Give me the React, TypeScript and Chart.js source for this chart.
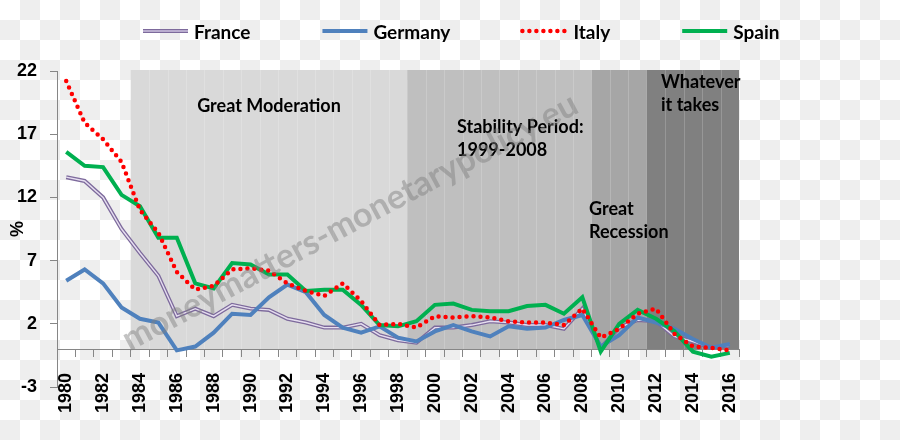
import { useEffect, useRef } from 'react';
import { Chart, registerables } from 'chart.js';

Chart.register(...registerables);

const years = [
  '1980', '1981', '1982', '1983', '1984', '1985', '1986', '1987', '1988', '1989',
  '1990', '1991', '1992', '1993', '1994', '1995', '1996', '1997', '1998', '1999',
  '2000', '2001', '2002', '2003', '2004', '2005', '2006', '2007', '2008', '2009',
  '2010', '2011', '2012', '2013', '2014', '2015', '2016',
];

const france = [
  13.6, 13.3, 12.0, 9.5, 7.6, 5.8, 2.6, 3.2, 2.6, 3.5,
  3.2, 3.1, 2.4, 2.1, 1.7, 1.7, 2.0, 1.1, 0.7, 0.5,
  1.7, 1.7, 1.9, 2.2, 2.1, 1.9, 1.9, 1.6, 3.2, 0.1,
  1.7, 2.3, 2.2, 1.0, 0.6, 0.1, 0.3,
];

const germany = [
  5.4, 6.3, 5.2, 3.3, 2.4, 2.1, -0.1, 0.2, 1.3, 2.8,
  2.7, 4.1, 5.1, 4.5, 2.7, 1.7, 1.3, 1.8, 0.9, 0.6,
  1.4, 1.9, 1.4, 1.0, 1.8, 1.6, 1.7, 2.3, 2.7, 0.2,
  1.1, 2.5, 2.1, 1.6, 0.8, 0.1, 0.4,
];

const italy = [
  21.2, 17.9, 16.6, 14.8, 11.0, 9.2, 6.1, 4.7, 5.0, 6.3,
  6.4, 6.2, 5.2, 4.6, 4.2, 5.2, 3.8, 1.9, 2.0, 1.7,
  2.6, 2.5, 2.6, 2.5, 2.2, 2.1, 2.1, 1.9, 3.2, 0.9,
  1.6, 2.8, 3.2, 1.2, 0.2, 0.1, -0.1,
];

const spain = [
  15.6, 14.5, 14.4, 12.2, 11.3, 8.8, 8.8, 5.2, 4.8, 6.8,
  6.7, 5.9, 5.9, 4.6, 4.7, 4.7, 3.5, 1.9, 1.8, 2.2,
  3.5, 3.6, 3.1, 3.0, 3.0, 3.4, 3.5, 2.8, 4.1, -0.2,
  2.0, 3.1, 2.4, 1.4, -0.2, -0.6, -0.3,
];

const yTicks = [-3, 2, 7, 12, 17, 22];

const periodStart = ['1984', '1999', '2009', '2012'];
const periodEnd = ['1998', '2008', '2011', '2016'];
const periodLabels = [
  ['Great Moderation'],
  ['Stability Period:', '1999-2008'],
  ['Great', 'Recession'],
  ['Whatever', 'it takes'],
];

const watermarkText = 'moneymatters-monetarypolicy.eu';

// styles / layout
const periodColors = ['#d9d9d9', '#bfbfbf', '#a6a6a6', '#808080'];
const periodLabelLayout = [
  { x: 269, y: 112, align: 'center' },
  { x: 457, y: 133, align: 'left' },
  { x: 589, y: 215, align: 'left' },
  { x: 661, y: 88, align: 'left' },
];
const annoFont = 'bold 18px Lato, "Open Sans", sans-serif';
const tickFont = { family: '"Liberation Sans", Arial, sans-serif', size: 18, weight: 'bold' as const };

const bandsPlugin = {
  id: 'bands',
  beforeDraw(chart: any) {
    const { ctx, chartArea } = chart;
    const xs = chart.scales.x;
    const ys = chart.scales.y;
    const half = (xs.getPixelForValue(1) - xs.getPixelForValue(0)) / 2;
    const yTop = chartArea.top - 1;
    const yBot = ys.getPixelForValue(0);
    ctx.save();
    periodStart.forEach((s, i) => {
      const i0 = years.indexOf(s);
      const i1 = years.indexOf(periodEnd[i]);
      const x0 = xs.getPixelForValue(i0) - half;
      const x1 = xs.getPixelForValue(i1) + half;
      ctx.fillStyle = periodColors[i];
      ctx.fillRect(x0, yTop, x1 - x0, yBot - yTop);
      ctx.strokeStyle = 'rgba(255,255,255,0.18)';
      ctx.lineWidth = 1;
      for (let k = i0 + 1; k <= i1; k++) {
        const gx = Math.round(xs.getPixelForValue(k) - half) + 0.5;
        ctx.beginPath();
        ctx.moveTo(gx, yTop);
        ctx.lineTo(gx, yBot);
        ctx.stroke();
      }
    });
    ctx.restore();
  },
  beforeDatasetsDraw(chart: any) {
    const { ctx } = chart;
    ctx.save();
    ctx.font = annoFont;
    ctx.fillStyle = '#000';
    ctx.textBaseline = 'alphabetic';
    periodLabels.forEach((lines, i) => {
      const p = periodLabelLayout[i];
      ctx.textAlign = p.align;
      lines.forEach((t, j) => ctx.fillText(t, p.x, p.y + j * 23, 78 + (lines.length === 1 ? 70 : 50)));
    });
    ctx.restore();
  },
  afterDatasetsDraw(chart: any) {
    const { ctx } = chart;
    ctx.save();
    ctx.translate(350, 222);
    ctx.rotate((-28 * Math.PI) / 180);
    ctx.font = 'bold 34px Lato, sans-serif';
    ctx.fillStyle = 'rgba(128,128,128,0.47)';
    ctx.textAlign = 'center';
    ctx.textBaseline = 'middle';
    ctx.fillText(watermarkText, 0, 0);
    ctx.restore();
  },
  afterDraw(chart: any) {
    const { ctx } = chart;
    ctx.save();
    ctx.font = 'bold 19px Lato, sans-serif';
    ctx.textBaseline = 'middle';
    ctx.textAlign = 'left';
    let x = 141;
    const y = 33;
    const items = chart.data.datasets.filter((d: any) => d.inLegend);
    items.sort((a: any, b: any) => a.legendIndex - b.legendIndex);
    items.forEach((d: any) => {
      ctx.save();
      ctx.strokeStyle = d.borderColor;
      ctx.lineWidth = d.borderWidth;
      ctx.lineCap = d.borderCapStyle || 'butt';
      ctx.setLineDash(d.borderDash || []);
      ctx.beginPath();
      ctx.moveTo(x + 2, y - 2);
      ctx.lineTo(x + 47, y - 2);
      ctx.stroke();
      if (d.legendInner) {
        ctx.strokeStyle = d.legendInner;
        ctx.lineWidth = 1.5;
        ctx.beginPath();
        ctx.moveTo(x + 2, y - 2);
        ctx.lineTo(x + 47, y - 2);
        ctx.stroke();
      }
      ctx.restore();
      ctx.fillStyle = '#000';
      const tx = x + 53;
      ctx.fillText(d.label, tx, y);
      x = tx + ctx.measureText(d.label).width + 70;
    });
    ctx.restore();
  },
};

export default function App() {
  const ref = useRef<HTMLCanvasElement | null>(null);

  useEffect(() => {
    if (!ref.current) return;
    const chart = new Chart(ref.current, {
      type: 'line',
      data: {
        labels: years,
        datasets: [
          {
            label: 'Italy', data: italy, borderColor: '#ff0000', borderWidth: 4.5,
            borderDash: [0, 7], borderCapStyle: 'round', order: 0,
            inLegend: true, legendIndex: 2,
          } as any,
          {
            label: 'Spain', data: spain, borderColor: '#00b050', borderWidth: 4,
            order: 1, inLegend: true, legendIndex: 3,
          } as any,
          {
            label: 'Germany', data: germany, borderColor: '#4f81bd', borderWidth: 4,
            order: 2, inLegend: true, legendIndex: 1,
          } as any,
          {
            label: '_france_inner', data: france, borderColor: '#e6def0', borderWidth: 1.4,
            order: 3,
          } as any,
          {
            label: 'France', data: france, borderColor: '#7d6a9c', borderWidth: 4,
            order: 4, inLegend: true, legendIndex: 0, legendInner: '#cfc4e0',
          } as any,
        ],
      },
      options: {
        animation: false,
        responsive: true,
        maintainAspectRatio: false,
        layout: { padding: { left: 0, right: 161, top: 71, bottom: 53 } },
        elements: { point: { radius: 0, hoverRadius: 0 }, line: { tension: 0, fill: false } },
        plugins: { legend: { display: false }, tooltip: { enabled: false } },
        scales: {
          x: {
            type: 'category',
            offset: true,
            position: { y: 0 },
            grid: { offset: true, drawOnChartArea: false, tickLength: 7, color: '#868686', tickColor: '#868686' },
            border: { color: '#868686', width: 1 },
            ticks: {
              autoSkip: false, minRotation: 90, maxRotation: 90, padding: 17,
              color: '#000', font: tickFont,
              callback: (_v: any, i: number) => (i % 2 === 0 ? years[i] : ''),
            },
          },
          y: {
            type: 'linear',
            min: -3,
            max: 22,
            afterFit: (s: any) => { s.width = 57; },
            afterBuildTicks: (s: any) => { s.ticks = yTicks.map((v) => ({ value: v })); },
            grid: { drawOnChartArea: false, tickLength: 7, color: '#868686' },
            border: { color: '#868686', width: 1 },
            ticks: { padding: 13, color: '#000', font: tickFont },
            title: { display: true, text: '%', color: '#000', font: tickFont, padding: { top: 7, bottom: 0 } },
          },
        },
      } as any,
      plugins: [bandsPlugin],
    });
    return () => chart.destroy();
  }, []);

  return (
    <div
      style={{
        position: 'absolute', left: 0, top: 0, width: 900, height: 440,
        backgroundColor: '#ffffff',
        backgroundImage: 'conic-gradient(#eeeeee 0 25%, transparent 0 50%, #eeeeee 0 75%, transparent 0 100%)',
        backgroundSize: '40px 40px',
      }}
    >
      <canvas ref={ref} style={{ width: 900, height: 440, display: 'block' }} />
    </div>
  );
}
